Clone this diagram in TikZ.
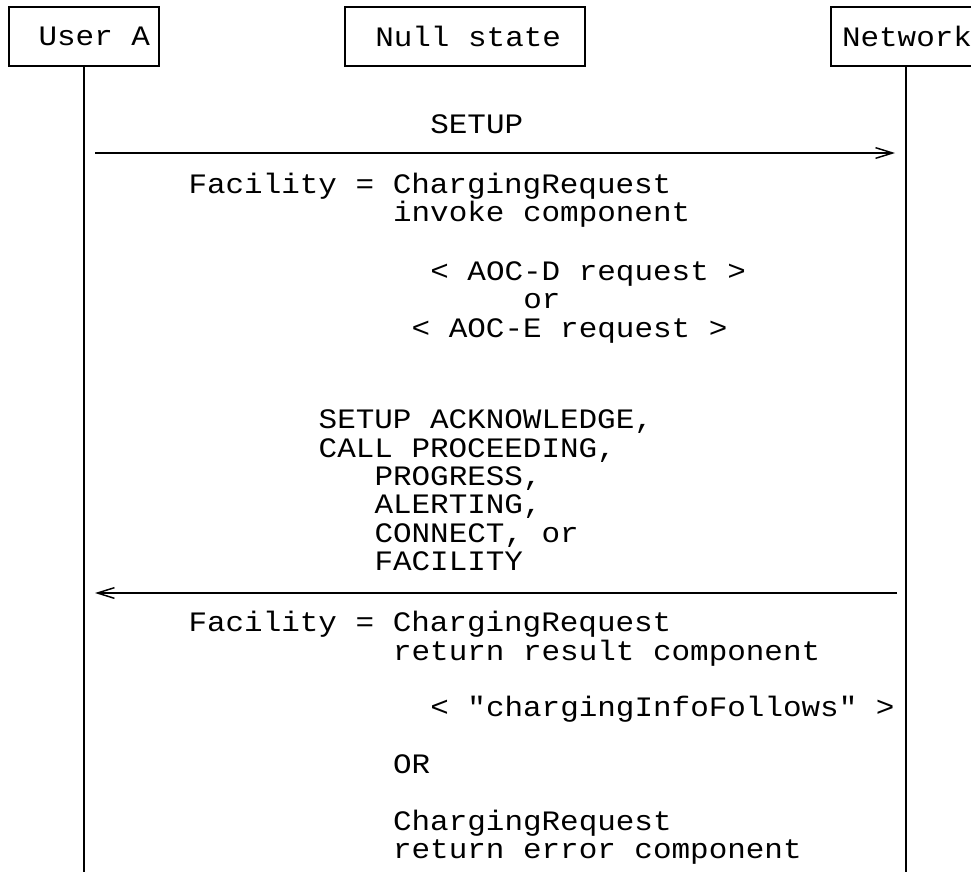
\documentclass[tikz,border=0pt]{standalone}
\usepackage{fontspec}
\setmonofont{Liberation Mono}[FakeStretch=1.1]
\usetikzlibrary{arrows.meta}
\newcommand{\msgfont}{\ttfamily\fontsize{21.1}{28}\selectfont}
\newcommand{\cx}[1]{187.5+#1*18.6}

\begin{document}
\begin{tikzpicture}[x=0.75pt, y=-0.75pt, line width=1.5pt,
  >={Straight Barb[length=12.75pt,width=8pt,line width=1.1pt]},
  actor/.style={draw, font=\msgfont, minimum height=44.25pt, inner ysep=0pt},
  msg/.style={anchor=base west, inner sep=0pt, font=\msgfont}]
  \useasboundingbox (0,0) rectangle (971,872);
  \coordinate (bot) at (0,872);
  % the three boxes on top
  \node[actor, inner xsep=6.75pt] (usera) at (84,36.5) {\makebox[99pt][r]{User A}};
  \node[actor, inner xsep=18pt] (null) at (465,36.5) {\makebox[144pt][r]{Null state}};
  \node[actor, inner xsep=8.25pt] (net) at (906,36.5) {\makebox[96pt][l]{Network}};
  \draw (usera.south) -- (usera.south |- bot);
  \draw (net.south) -- (net.south |- bot);
  % messages
  \coordinate (a1) at (95,153);  \coordinate (b1) at (895,153);
  \coordinate (a2) at (95,593);  \coordinate (b2) at (897,593);
  \draw[->] (a1) -- (b1);
  \draw[->] (b2) -- (a2);
  \foreach \cl/\yb/\txt [count=\i] in {
    13/133/SETUP,
    0/193/{Facility = ChargingRequest},
    11/221/{invoke component},
    13/280/{< AOC-D request >},
    18/308/or,
    12/337/{< AOC-E request >},
    7/428/{SETUP ACKNOWLEDGE,},
    7/457/{CALL PROCEEDING,},
    10/485/{PROGRESS,},
    10/513/{ALERTING,},
    10/542/{CONNECT, or},
    10/570/FACILITY,
    0/631/{Facility = ChargingRequest},
    11/660/{return result component},
    13/716/{< "chargingInfoFollows" >},
    11/773/OR,
    11/830/ChargingRequest,
    11/858/{return error component}}
    \node[msg] (t\i) at ({\cx{\cl}},\yb) {\txt};
\end{tikzpicture}
\end{document}
